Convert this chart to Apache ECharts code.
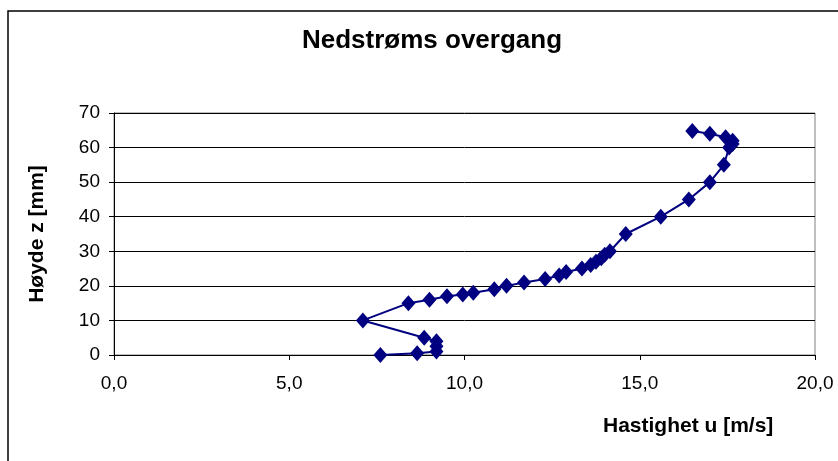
<!DOCTYPE html>
<html>
<head>
<meta charset="utf-8">
<script src="https://cdn.jsdelivr.net/npm/echarts@6/dist/echarts.min.js"></script>
<style>
  html, body { margin: 0; padding: 0; background: #fff; }
  #chart { width: 838px; height: 461px; }
</style>
</head>
<body>
<div id="chart"></div>
<script>
// hastighet u [m/s] og høyde z [mm], lest av figuren
var hastighet = [7.6, 8.65, 9.2, 9.2, 9.2, 8.85, 7.1, 8.4, 9.0, 9.5, 9.95, 10.25, 10.85, 11.2, 11.7, 12.3, 12.7, 12.9, 13.35, 13.6, 13.75, 13.9, 14.0, 14.15, 14.6, 15.6, 16.4, 17.0, 17.4, 17.55, 17.65, 17.65, 17.45, 17.0, 16.5];
var hoyde = [0, 0.5, 1, 2.5, 4, 5, 10, 15, 16, 17, 17.5, 18, 19, 20, 21, 22, 23, 24, 25, 26, 27, 28, 29, 30, 35, 40, 45, 50, 55, 60, 61, 62, 63, 64, 64.8];

var punkter = [];
for (var i = 0; i < hastighet.length; i++) {
  punkter.push([hastighet[i], hoyde[i]]);
}

var font = "'Liberation Sans', Arial, sans-serif";
var chart = echarts.init(document.getElementById("chart"));

chart.setOption({
  animation: false,
  backgroundColor: "#fff",
  graphic: [
    {
      type: "rect",
      shape: { x: 8, y: 11, width: 900, height: 500 },
      style: { fill: "none", stroke: "#000", lineWidth: 1.5 },
      z: 0
    },
    {
      type: "text",
      x: 432,
      y: 41,
      style: {
        text: "Nedstrøms overgang",
        font: "bold 26px " + font,
        fill: "#000",
        align: "center",
        verticalAlign: "middle"
      }
    },
    {
      type: "text",
      x: 603,
      y: 426,
      style: {
        text: "Hastighet u [m/s]",
        font: "bold 21px " + font,
        fill: "#000",
        align: "left",
        verticalAlign: "middle"
      }
    }
  ],
  grid: {
    left: 114, right: 23, top: 113, bottom: 106,
    show: true,
    borderColor: "#808080",
    borderWidth: 1
  },
  xAxis: {
    type: "value",
    min: 0, max: 20, interval: 5,
    axisLine: { show: true, lineStyle: { color: "#000", width: 1 } },
    axisTick: { show: true, length: 5, lineStyle: { color: "#000" } },
    splitLine: { show: false },
    axisLabel: {
      margin: 19,
      fontFamily: font, fontSize: 19, color: "#000",
      formatter: function (v) { return v.toFixed(1).replace(".", ","); }
    }
  },
  yAxis: {
    type: "value",
    min: 0, max: 70, interval: 10,
    name: "Høyde z [mm]",
    nameLocation: "middle",
    nameGap: 66,
    nameTextStyle: { fontFamily: font, fontSize: 21, fontWeight: "bold", color: "#000" },
    axisLine: { show: true, onZero: false, lineStyle: { color: "#000", width: 1 } },
    axisTick: { show: true, length: 5, lineStyle: { color: "#000" } },
    splitLine: { show: true, lineStyle: { color: "#000", width: 1 } },
    axisLabel: { margin: 14, fontFamily: font, fontSize: 19, color: "#000" }
  },
  series: [
    {
      type: "line",
      data: punkter,
      symbol: "diamond",
      symbolSize: [14, 16],
      showAllSymbol: true,
      lineStyle: { color: "#000080", width: 2 },
      itemStyle: { color: "#000080" },
      z: 3
    }
  ]
});
</script>
</body>
</html>
